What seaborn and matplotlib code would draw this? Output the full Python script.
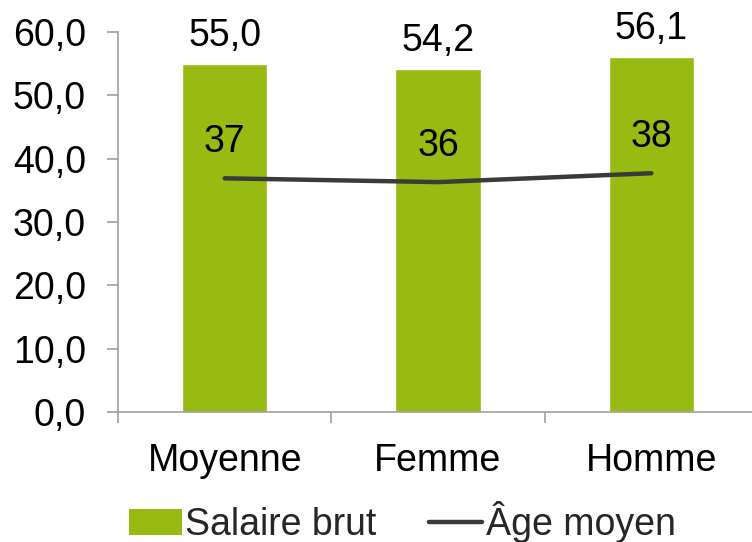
import numpy as np
import matplotlib
matplotlib.use("Agg")
import matplotlib.pyplot as plt
from matplotlib.patches import Patch
from matplotlib.lines import Line2D
import seaborn as sns

categories = ["Moyenne", "Femme", "Homme"]
salaire = [55.0, 54.2, 56.1]
age = [36.9, 36.3, 37.7]
age_labels = ["37", "36", "38"]
yticks = [0, 10, 20, 30, 40, 50, 60]

GREEN = "#97bb13"
DARK = "#3a3a3a"
AXIS = "#a0a0a0"

sns.set_theme(style="white")
plt.rcParams["font.family"] = ["Liberation Sans", "DejaVu Sans"]
FS = 27

fig = plt.figure(figsize=(7.52, 5.42), dpi=100)
ax = fig.add_axes([118 / 752, 130 / 542, 640 / 752, 380 / 542])

sns.barplot(x=categories, y=salaire, color=GREEN, width=0.4, saturation=1, ax=ax)
pos = np.arange(len(categories))
sns.lineplot(x=pos, y=age, color=DARK, linewidth=3.2, ax=ax,
             solid_capstyle="round")

# value labels
for x, v in zip(pos, salaire):
    ax.annotate(f"{v:.1f}".replace(".", ","), (x, v), xytext=(0, 10),
                textcoords="offset pixels", ha="center", va="bottom",
                fontsize=FS, color="black")
for x, v, lab in zip(pos, age, age_labels):
    ax.annotate(lab, (x, v), xytext=(0, 18), textcoords="offset pixels",
                ha="center", va="bottom", fontsize=FS, color="black")

ax.set_xlim(-0.5, 2.5)
ax.set_ylim(0, 60)
ax.set_yticks(yticks)
ax.set_yticklabels([f"{t:.1f}".replace(".", ",") for t in yticks], fontsize=FS, color="black")
ax.set_xticks(pos)
ax.set_xticklabels(categories, fontsize=FS, color="black")
ax.set_xticks([-0.5, 0.5, 1.5, 2.5], minor=True)
ax.tick_params(axis="x", which="major", bottom=False, length=0, pad=22)
ax.tick_params(axis="x", which="minor", bottom=True, length=8, width=1.2, color=AXIS, direction="out")
ax.tick_params(axis="y", left=True, length=8, width=1.2, color=AXIS, direction="out", pad=15)
ax.set_xlabel("")
ax.set_ylabel("")
for s in ["top", "right"]:
    ax.spines[s].set_visible(False)
for s in ["left", "bottom"]:
    ax.spines[s].set_color(AXIS)
    ax.spines[s].set_linewidth(1.2)

handles = [Patch(facecolor=GREEN, edgecolor="none", label="Salaire brut"),
           Line2D([0], [0], color=DARK, linewidth=3.2, label="Âge moyen")]
fig.legend(handles=handles, loc="center", bbox_to_anchor=(0.535, 0.037),
           ncol=2, frameon=False, fontsize=FS, handlelength=1.4,
           handletextpad=0.1, columnspacing=1.4)

fig.savefig("out.png", dpi=100)
